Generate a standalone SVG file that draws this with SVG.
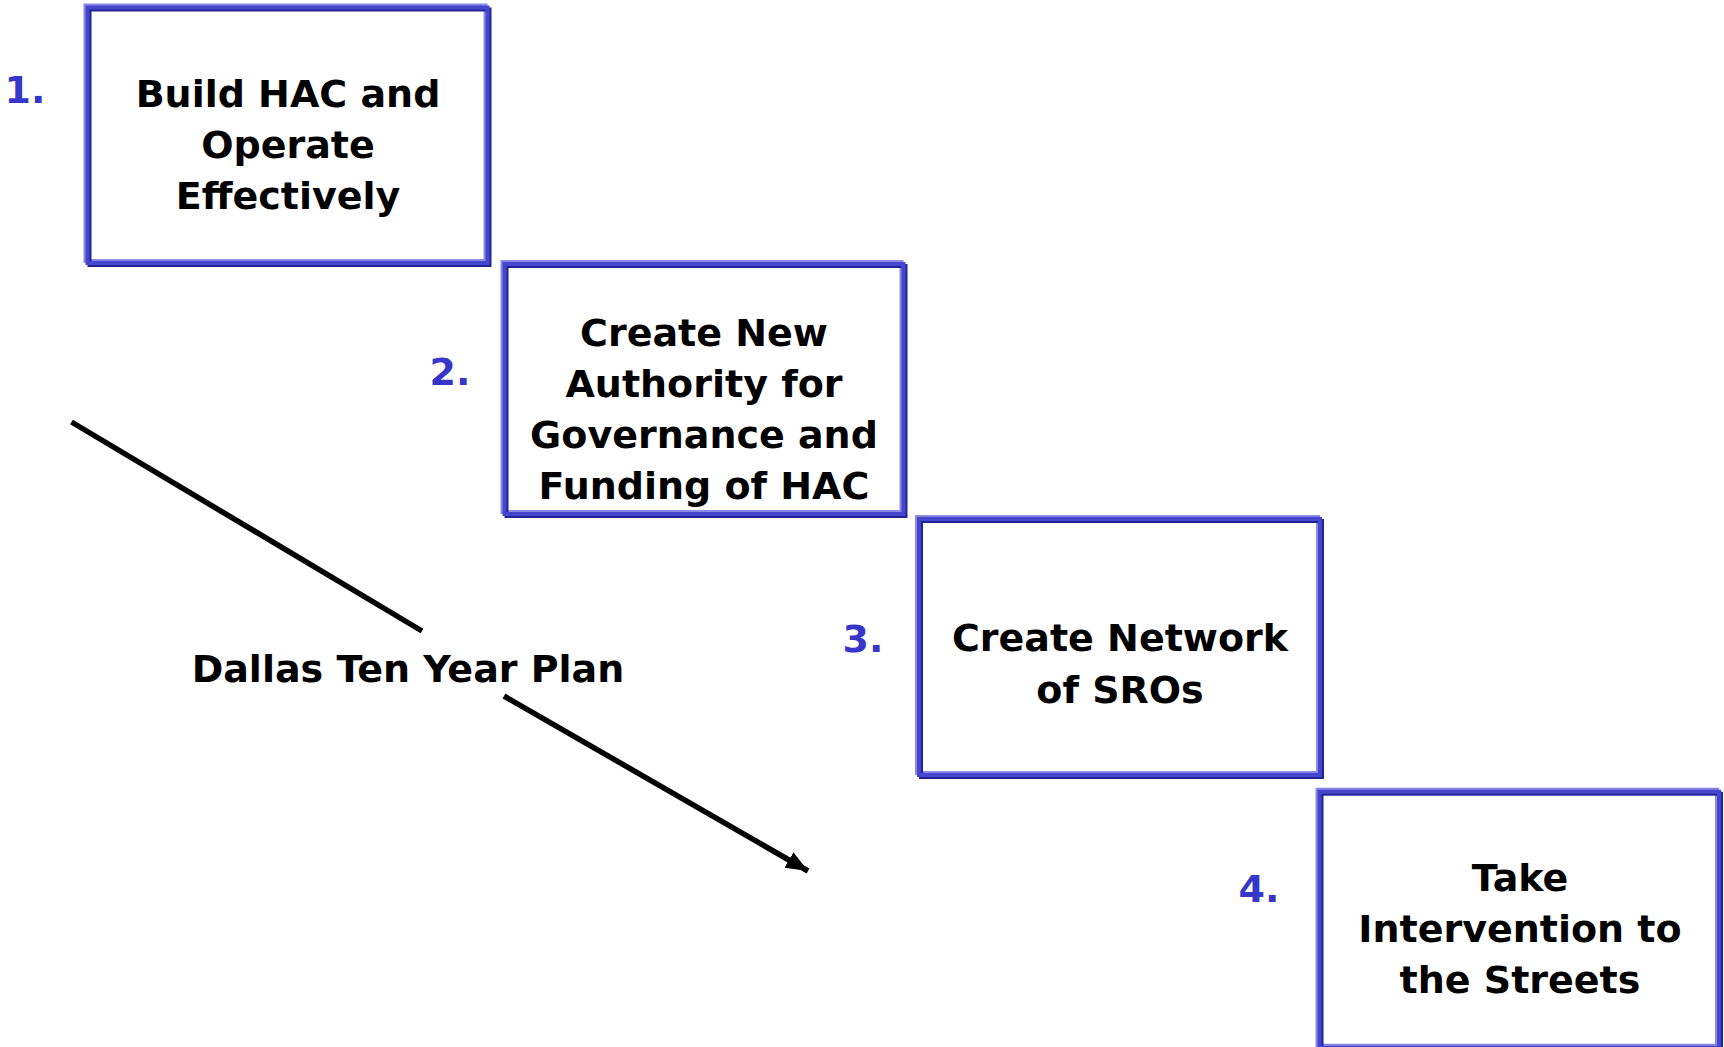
<svg xmlns="http://www.w3.org/2000/svg" width="1724" height="1047" viewBox="0 0 1724 1047">
<defs>
<style>
.lt{fill:none;stroke:#8a8ae6;stroke-width:4}
.dk{fill:none;stroke:#222299;stroke-width:4}
.md{fill:none;stroke:#4646cc;stroke-width:4}
.t{font-family:"DejaVu Sans",Verdana,sans-serif;font-weight:bold;font-size:38px;fill:#000;text-anchor:middle}
.n{font-family:"DejaVu Sans",Verdana,sans-serif;font-weight:bold;font-size:38px;fill:#3636c8;text-anchor:middle}
.ln{stroke:#000;stroke-width:5.5;fill:none}
</style>
<marker id="ah" markerUnits="userSpaceOnUse" markerWidth="26" markerHeight="22" refX="22" refY="9" orient="auto">
<path d="M0,0 L22,9 L0,18 Z" fill="#000"/>
</marker>
</defs>
<rect width="1724" height="1047" fill="#fff"/>
<g id="node1">
<rect class="lt" x="85.5" y="5.5" width="400" height="255.5"/>
<rect class="dk" x="89.5" y="9.5" width="400" height="255.5"/>
<rect class="md" x="87.5" y="7.5" width="400" height="255.5"/>
<text class="n" x="25" y="103">1.</text>
<text class="t" x="288" y="107">Build HAC and</text>
<text class="t" x="288" y="158">Operate</text>
<text class="t" x="288" y="209">Effectively</text>
</g>
<g id="node2">
<rect class="lt" x="502.5" y="262" width="399" height="250"/>
<rect class="dk" x="506.5" y="266" width="399" height="250"/>
<rect class="md" x="504.5" y="264" width="399" height="250"/>
<text class="n" x="450" y="385">2.</text>
<text class="t" x="704" y="346">Create New</text>
<text class="t" x="704" y="397">Authority for</text>
<text class="t" x="704" y="448">Governance and</text>
<text class="t" x="704" y="499">Funding of HAC</text>
</g>
<g id="node3">
<rect class="lt" x="917" y="517" width="401" height="256"/>
<rect class="dk" x="921" y="521" width="401" height="256"/>
<rect class="md" x="919" y="519" width="401" height="256"/>
<text class="n" x="863" y="652">3.</text>
<text class="t" x="1120" y="651">Create Network</text>
<text class="t" x="1120" y="703">of SROs</text>
</g>
<g id="node4">
<rect class="lt" x="1317.5" y="789.7" width="399.5" height="256"/>
<rect class="dk" x="1321.5" y="793.7" width="399.5" height="256"/>
<rect class="md" x="1319.5" y="791.7" width="399.5" height="256"/>
<text class="n" x="1259" y="902">4.</text>
<text class="t" x="1520" y="891">Take</text>
<text class="t" x="1520" y="942">Intervention to</text>
<text class="t" x="1520" y="993">the Streets</text>
</g>
<g id="connectors">
<line class="ln" x1="71.5" y1="422" x2="422" y2="631"/>
<line class="ln" x1="504" y1="696" x2="808" y2="871" marker-end="url(#ah)"/>
</g>
<g id="label">
<text class="t" x="408" y="682">Dallas Ten Year Plan</text>
</g>
</svg>
